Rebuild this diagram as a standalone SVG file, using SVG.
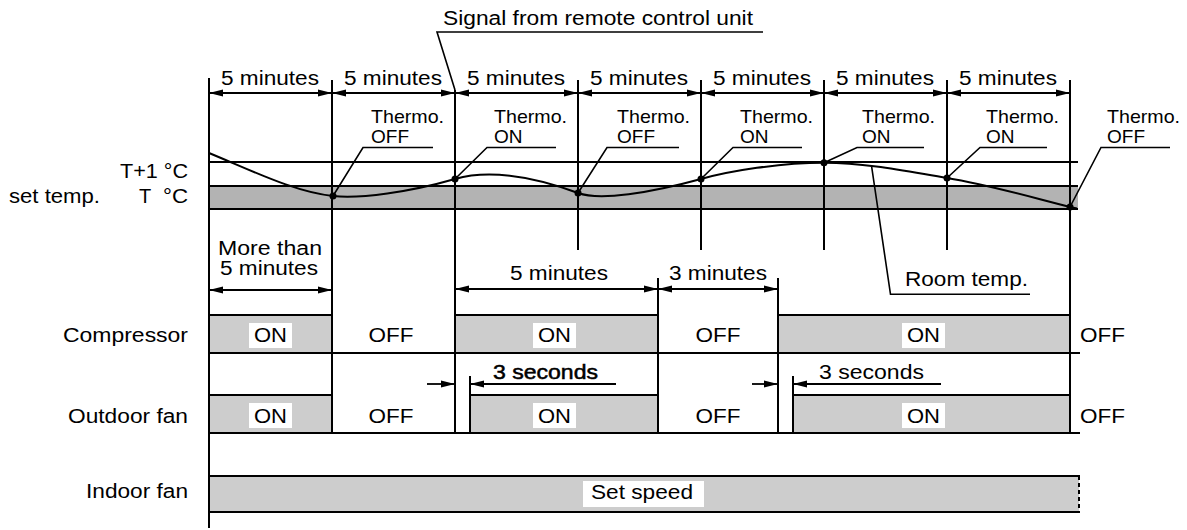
<svg xmlns="http://www.w3.org/2000/svg" width="1187" height="530" viewBox="0 0 1187 530">
<style>
text { font-family: "Liberation Sans", Arial, Helvetica, sans-serif; font-size: 20px; fill: #000; }
.th { font-size: 19px; }
.ln { stroke: #000; stroke-width: 2; fill: none; }
.ld { stroke: #000; stroke-width: 1.6; fill: none; }
.dim { stroke: #000; stroke-width: 1.8; fill: none; marker-start: url(#ah); marker-end: url(#ah); }
.one { stroke: #000; stroke-width: 1.8; fill: none; marker-end: url(#ah); }
.band { fill: #b3b3b3; }
.bar { fill: #cdcdcd; }
.wb { fill: #fff; }
.dot { fill: #000; }
</style>
<defs>
<marker id="ah" markerUnits="userSpaceOnUse" markerWidth="14" markerHeight="8" refX="14" refY="4" orient="auto-start-reverse" viewBox="0 0 14 8">
<path d="M0,0.5 L14,4 L0,7.5 z" fill="#000"/>
</marker>
</defs>

<g id="temperature-band">
<rect class="band" x="209" y="186" width="869" height="23"/>
<line class="ln" x1="209" y1="162" x2="1078" y2="162"/>
<line class="ln" x1="209" y1="186" x2="1078" y2="186"/>
<line class="ln" x1="209" y1="209" x2="1078" y2="209"/>
</g>

<g id="labels-left">
<text x="188" y="178" text-anchor="end" textLength="68" lengthAdjust="spacingAndGlyphs">T+1 °C</text>
<text x="9" y="203" textLength="91" lengthAdjust="spacingAndGlyphs">set temp.</text>
<text x="139" y="203">T</text>
<text x="188" y="203" text-anchor="end" textLength="25" lengthAdjust="spacingAndGlyphs">°C</text>
<text x="188" y="342" text-anchor="end" textLength="125" lengthAdjust="spacingAndGlyphs">Compressor</text>
<text x="188" y="423" text-anchor="end" textLength="120" lengthAdjust="spacingAndGlyphs">Outdoor fan</text>
<text x="188" y="498" text-anchor="end" textLength="102" lengthAdjust="spacingAndGlyphs">Indoor fan</text>
</g>

<g id="compressor">
<rect class="bar" x="209" y="315" width="123" height="38"/>
<rect class="bar" x="455" y="315" width="203" height="38"/>
<rect class="bar" x="778" y="315" width="292" height="38"/>
<line class="ln" x1="209" y1="315" x2="332" y2="315"/>
<line class="ln" x1="455" y1="315" x2="658" y2="315"/>
<line class="ln" x1="778" y1="315" x2="1070" y2="315"/>
<line class="ln" x1="209" y1="353" x2="1080" y2="353"/>
<rect class="wb" x="249" y="323" width="43" height="25"/>
<rect class="wb" x="533" y="323" width="43" height="25"/>
<rect class="wb" x="902" y="323" width="43" height="25"/>
<text x="270.5" y="342" text-anchor="middle" textLength="33" lengthAdjust="spacingAndGlyphs">ON</text>
<text x="391" y="342" text-anchor="middle" textLength="45" lengthAdjust="spacingAndGlyphs">OFF</text>
<text x="554.5" y="342" text-anchor="middle" textLength="33" lengthAdjust="spacingAndGlyphs">ON</text>
<text x="718" y="342" text-anchor="middle" textLength="45" lengthAdjust="spacingAndGlyphs">OFF</text>
<text x="923.5" y="342" text-anchor="middle" textLength="33" lengthAdjust="spacingAndGlyphs">ON</text>
<text x="1080" y="342" textLength="45" lengthAdjust="spacingAndGlyphs">OFF</text>
</g>

<g id="outdoor-fan">
<rect class="bar" x="209" y="395" width="123" height="38"/>
<rect class="bar" x="470" y="395" width="188" height="38"/>
<rect class="bar" x="793" y="395" width="277" height="38"/>
<line class="ln" x1="209" y1="395" x2="332" y2="395"/>
<line class="ln" x1="470" y1="395" x2="658" y2="395"/>
<line class="ln" x1="793" y1="395" x2="1070" y2="395"/>
<line class="ln" x1="209" y1="433" x2="1080" y2="433"/>
<rect class="wb" x="249" y="403" width="43" height="25"/>
<rect class="wb" x="533" y="403" width="43" height="25"/>
<rect class="wb" x="902" y="403" width="43" height="25"/>
<text x="270.5" y="423" text-anchor="middle" textLength="33" lengthAdjust="spacingAndGlyphs">ON</text>
<text x="391" y="423" text-anchor="middle" textLength="45" lengthAdjust="spacingAndGlyphs">OFF</text>
<text x="554.5" y="423" text-anchor="middle" textLength="33" lengthAdjust="spacingAndGlyphs">ON</text>
<text x="718" y="423" text-anchor="middle" textLength="45" lengthAdjust="spacingAndGlyphs">OFF</text>
<text x="923.5" y="423" text-anchor="middle" textLength="33" lengthAdjust="spacingAndGlyphs">ON</text>
<text x="1080" y="423" textLength="45" lengthAdjust="spacingAndGlyphs">OFF</text>
</g>

<g id="indoor-fan">
<rect class="bar" x="209" y="476" width="870" height="36"/>
<line class="ln" x1="209" y1="476" x2="1080" y2="476"/>
<line class="ln" x1="209" y1="512" x2="1080" y2="512"/>
<line class="ln" x1="1079" y1="476" x2="1079" y2="512" stroke-dasharray="4,3"/>
<rect class="wb" x="583" y="481" width="121" height="26"/>
<text x="642" y="499" text-anchor="middle" textLength="102" lengthAdjust="spacingAndGlyphs">Set speed</text>
</g>

<g id="connectors">
<!-- time grid verticals -->
<line class="ln" x1="209" y1="78" x2="209" y2="528"/>
<line class="ln" x1="332" y1="80" x2="332" y2="433"/>
<line class="ln" x1="455" y1="90" x2="455" y2="433"/>
<line class="ln" x1="578" y1="80" x2="578" y2="250"/>
<line class="ln" x1="701" y1="80" x2="701" y2="250"/>
<line class="ln" x1="824" y1="80" x2="824" y2="250"/>
<line class="ln" x1="947" y1="80" x2="947" y2="250"/>
<line class="ln" x1="1070" y1="80" x2="1070" y2="433"/>
<line class="ln" x1="658" y1="278" x2="658" y2="433"/>
<line class="ln" x1="778" y1="278" x2="778" y2="433"/>
<line class="ln" x1="470" y1="376" x2="470" y2="433"/>
<line class="ln" x1="793" y1="376" x2="793" y2="433"/>

<!-- top dimensions -->
<line class="dim" x1="209" y1="93" x2="332" y2="93"/>
<line class="dim" x1="332" y1="93" x2="455" y2="93"/>
<line class="dim" x1="455" y1="93" x2="578" y2="93"/>
<line class="dim" x1="578" y1="93" x2="701" y2="93"/>
<line class="dim" x1="701" y1="93" x2="824" y2="93"/>
<line class="dim" x1="824" y1="93" x2="947" y2="93"/>
<line class="dim" x1="947" y1="93" x2="1070" y2="93"/>

<!-- lower dimensions -->
<line class="dim" x1="209" y1="290" x2="332" y2="290"/>
<line class="dim" x1="455" y1="289" x2="658" y2="289"/>
<line class="dim" x1="658" y1="289" x2="778" y2="289"/>

<!-- 3 seconds -->
<line class="one" x1="427" y1="384" x2="455" y2="384"/>
<line class="one" x1="616" y1="384" x2="470" y2="384"/>
<line class="one" x1="752" y1="384" x2="778" y2="384"/>
<line class="one" x1="941" y1="384" x2="793" y2="384"/>

<!-- room temperature curve -->
<path class="ln" d="M209,153 C255,172 295,192 333,196 C360,199 410,192 455,179 C480,171.8 520,172 578,193 C600,201 650,193 701,179 C730,171 780,162.7 824,162.7 C870,163 910,172 947,178 C990,185 1030,197 1070,207 L1077,208.5"/>
<circle class="dot" cx="333" cy="196" r="3.5"/>
<circle class="dot" cx="455" cy="179" r="3.5"/>
<circle class="dot" cx="578" cy="193" r="3.5"/>
<circle class="dot" cx="701" cy="179" r="3.5"/>
<circle class="dot" cx="824" cy="162.7" r="3.5"/>
<circle class="dot" cx="947" cy="178" r="3.5"/>
<circle class="dot" cx="1070" cy="207" r="3.5"/>

<!-- leaders -->
<polyline class="ld" points="455,90 437,32 763,32"/>
<polyline class="ld" points="333,196 363,147.5 433,147.5"/>
<polyline class="ld" points="455,179 487,147.5 556,147.5"/>
<polyline class="ld" points="578,193 607,147.5 679,147.5"/>
<polyline class="ld" points="701,179 733,147.5 802,147.5"/>
<polyline class="ld" points="824,162.7 857,147.5 924,147.5"/>
<polyline class="ld" points="947,178 980,147.5 1047,147.5"/>
<polyline class="ld" points="1070,207 1101,147.5 1170,147.5"/>
<polyline class="ld" points="871.5,165.7 890.5,294.3 1030,294.3"/>
</g>

<g id="dimension-labels">
<text x="443" y="25" font-size="21" textLength="310" lengthAdjust="spacingAndGlyphs">Signal from remote control unit</text>
<text x="270" y="85" text-anchor="middle" textLength="98" lengthAdjust="spacingAndGlyphs">5 minutes</text>
<text x="393" y="85" text-anchor="middle" textLength="98" lengthAdjust="spacingAndGlyphs">5 minutes</text>
<text x="516" y="85" text-anchor="middle" textLength="98" lengthAdjust="spacingAndGlyphs">5 minutes</text>
<text x="639" y="85" text-anchor="middle" textLength="98" lengthAdjust="spacingAndGlyphs">5 minutes</text>
<text x="762" y="85" text-anchor="middle" textLength="98" lengthAdjust="spacingAndGlyphs">5 minutes</text>
<text x="885" y="85" text-anchor="middle" textLength="98" lengthAdjust="spacingAndGlyphs">5 minutes</text>
<text x="1008" y="85" text-anchor="middle" textLength="98" lengthAdjust="spacingAndGlyphs">5 minutes</text>
<text x="270" y="255" text-anchor="middle" textLength="104" lengthAdjust="spacingAndGlyphs">More than</text>
<text x="269" y="275" text-anchor="middle" textLength="98" lengthAdjust="spacingAndGlyphs">5 minutes</text>
<text x="559" y="280" text-anchor="middle" textLength="98" lengthAdjust="spacingAndGlyphs">5 minutes</text>
<text x="718" y="280" text-anchor="middle" textLength="98" lengthAdjust="spacingAndGlyphs">3 minutes</text>
<text x="493" y="379" textLength="105" lengthAdjust="spacingAndGlyphs" stroke="#000" stroke-width="0.5">3 seconds</text>
<text x="819" y="379" textLength="105" lengthAdjust="spacingAndGlyphs">3 seconds</text>
<text x="905" y="286" textLength="123" lengthAdjust="spacingAndGlyphs">Room temp.</text>
</g>

<g id="thermo-labels">
<text class="th" x="371" y="123" textLength="73" lengthAdjust="spacingAndGlyphs">Thermo.</text>
<text class="th" x="371" y="143">OFF</text>
<text class="th" x="494" y="123" textLength="73" lengthAdjust="spacingAndGlyphs">Thermo.</text>
<text class="th" x="494" y="143">ON</text>
<text class="th" x="617" y="123" textLength="73" lengthAdjust="spacingAndGlyphs">Thermo.</text>
<text class="th" x="617" y="143">OFF</text>
<text class="th" x="740" y="123" textLength="73" lengthAdjust="spacingAndGlyphs">Thermo.</text>
<text class="th" x="740" y="143">ON</text>
<text class="th" x="862" y="123" textLength="73" lengthAdjust="spacingAndGlyphs">Thermo.</text>
<text class="th" x="862" y="143">ON</text>
<text class="th" x="986" y="123" textLength="73" lengthAdjust="spacingAndGlyphs">Thermo.</text>
<text class="th" x="986" y="143">ON</text>
<text class="th" x="1107" y="123" textLength="73" lengthAdjust="spacingAndGlyphs">Thermo.</text>
<text class="th" x="1107" y="143">OFF</text>
</g>
</svg>
